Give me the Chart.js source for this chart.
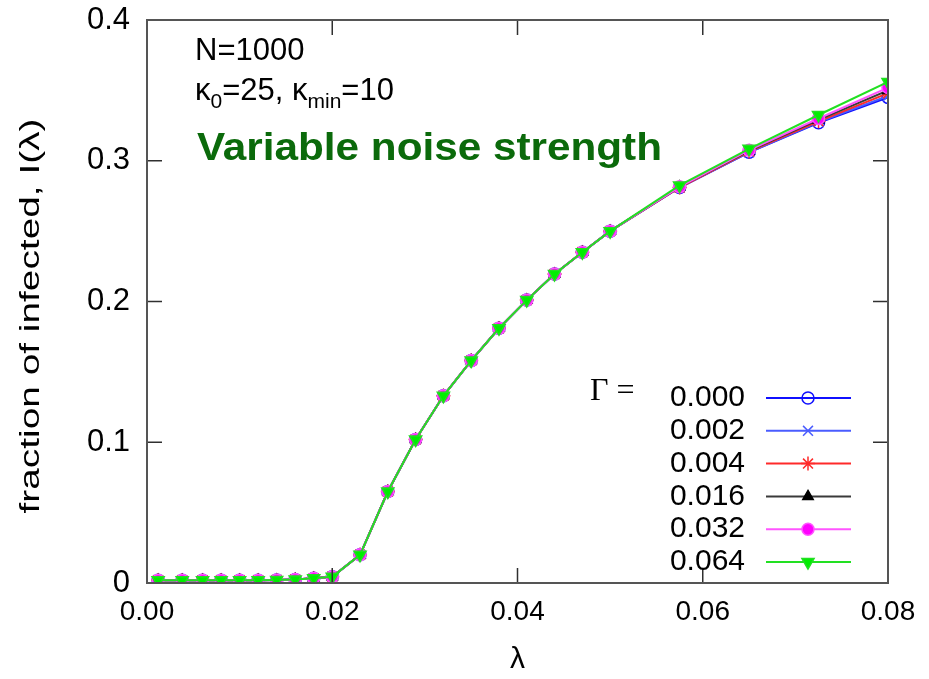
<!DOCTYPE html>
<html>
<head>
<meta charset="utf-8">
<title>fraction of infected vs lambda</title>
<script src="https://cdn.jsdelivr.net/npm/chart.js@4.4.1/dist/chart.umd.min.js"></script>
<style>
  html, body { margin: 0; padding: 0; background: #ffffff; }
  #wrap { width: 929px; height: 679px; }
</style>
</head>
<body>
<div id="wrap"><canvas id="chart" width="929" height="679"></canvas></div>
<script>
// infection rate λ (x values)
const lambdas = [0.0012, 0.0038, 0.006, 0.008, 0.010, 0.012, 0.014, 0.016, 0.018, 0.020,
                 0.023, 0.026, 0.029, 0.032, 0.035, 0.038, 0.041, 0.044, 0.047, 0.050,
                 0.0575, 0.065, 0.0725, 0.080];

// fraction of infected I(λ), one list per noise strength Γ
const infG000 = [0.002, 0.002, 0.002, 0.002, 0.002, 0.002, 0.0022, 0.0025, 0.0033, 0.0045,
                 0.020, 0.065, 0.102, 0.133, 0.158, 0.181, 0.201, 0.2195, 0.235, 0.250,
                 0.281, 0.306, 0.327, 0.345];
const infG002 = [0.002, 0.002, 0.002, 0.002, 0.002, 0.002, 0.0022, 0.0025, 0.0033, 0.0045,
                 0.020, 0.065, 0.102, 0.133, 0.158, 0.181, 0.201, 0.2195, 0.235, 0.250,
                 0.281, 0.306, 0.3275, 0.346];
const infG004 = [0.002, 0.002, 0.002, 0.002, 0.002, 0.002, 0.0022, 0.0025, 0.0033, 0.0045,
                 0.020, 0.065, 0.102, 0.133, 0.158, 0.181, 0.201, 0.2195, 0.235, 0.250,
                 0.281, 0.3065, 0.328, 0.348];
const infG016 = [0.002, 0.002, 0.002, 0.002, 0.002, 0.002, 0.0022, 0.0025, 0.0033, 0.0045,
                 0.020, 0.065, 0.102, 0.133, 0.158, 0.181, 0.201, 0.2195, 0.235, 0.250,
                 0.2815, 0.307, 0.329, 0.350];
const infG032 = [0.002, 0.002, 0.002, 0.002, 0.002, 0.002, 0.0022, 0.0025, 0.0033, 0.0045,
                 0.020, 0.065, 0.102, 0.133, 0.158, 0.181, 0.201, 0.2195, 0.235, 0.250,
                 0.2815, 0.3075, 0.330, 0.352];
const infG064 = [0.002, 0.002, 0.002, 0.002, 0.002, 0.002, 0.0022, 0.0025, 0.0033, 0.0045,
                 0.020, 0.065, 0.102, 0.133, 0.158, 0.181, 0.201, 0.2195, 0.235, 0.250,
                 0.2825, 0.3085, 0.3325, 0.356];

const gammaLabels = ['0.000', '0.002', '0.004', '0.016', '0.032', '0.064'];
const xTicks = [0, 0.02, 0.04, 0.06, 0.08];
const yTicks = [0, 0.1, 0.2, 0.3, 0.4];

// 每条曲线的样式
const styles = [
  { color: '#1010ff', point: 'circle',   fill: 'rgba(0,0,0,0)', rot: 0,   r: 6 },
  { color: '#4a5cff', point: 'crossRot', fill: '#4a5cff',       rot: 0,   r: 7 },
  { color: '#ff2a2a', point: 'star',     fill: '#ff2a2a',       rot: 0,   r: 7 },
  { color: '#3a3a3a', point: 'triangle', fill: '#000000',       rot: 0,   r: 6 },
  { color: '#ff55ff', point: 'circle',   fill: '#ff00ff',       rot: 0,   r: 6 },
  { color: '#22e022', point: 'triangle', fill: '#00ee00',       rot: 180, r: 7 }
];
const series = [infG000, infG002, infG004, infG016, infG032, infG064];

const datasets = series.map((vals, i) => ({
  label: gammaLabels[i],
  data: lambdas.map((x, j) => ({ x: x, y: vals[j] })),
  showLine: true,
  borderColor: styles[i].color,
  borderWidth: 2,
  pointStyle: styles[i].point,
  pointRadius: styles[i].r,
  pointRotation: styles[i].rot,
  pointBackgroundColor: styles[i].fill,
  pointBorderColor: i === 3 ? '#000000' : styles[i].color,
  pointBorderWidth: 1.5,
  order: 6 - i   // 后面的曲线画在上层
}));

// 坐标框、内向刻度、文字和图例
const decorations = {
  id: 'decorations',
  afterDraw(chart) {
    const ctx = chart.ctx;
    const a = chart.chartArea;
    const xs = chart.scales.x;
    const ys = chart.scales.y;
    ctx.save();

    // 刻度线（四边朝内）
    ctx.strokeStyle = '#303030';
    ctx.lineWidth = 1.5;
    const tl = 15;
    xTicks.forEach(v => {
      const px = xs.getPixelForValue(v);
      ctx.beginPath();
      ctx.moveTo(px, a.bottom); ctx.lineTo(px, a.bottom - tl);
      ctx.moveTo(px, a.top); ctx.lineTo(px, a.top + tl);
      ctx.stroke();
    });
    yTicks.forEach(v => {
      const py = ys.getPixelForValue(v);
      ctx.beginPath();
      ctx.moveTo(a.left, py); ctx.lineTo(a.left + tl, py);
      ctx.moveTo(a.right, py); ctx.lineTo(a.right - tl, py);
      ctx.stroke();
    });

    // 外框
    ctx.strokeStyle = '#555555';
    ctx.lineWidth = 2;
    ctx.strokeRect(a.left, a.top, a.right - a.left, a.bottom - a.top);

    // 轴标题
    ctx.fillStyle = '#000000';
    ctx.font = '30px "Liberation Sans", Arial, sans-serif';
    ctx.textAlign = 'center';
    ctx.textBaseline = 'middle';
    ctx.fillText('\u03bb', (a.left + a.right) / 2, 660);
    ctx.save();
    ctx.font = '27px "Liberation Sans", Arial, sans-serif';
    const yt = 'fraction of infected, I(\u03bb)';
    const yw = ctx.measureText(yt).width;
    ctx.translate(32, 316);
    ctx.rotate(-Math.PI / 2);
    ctx.scale(395 / yw, 1);
    ctx.fillText(yt, 0, 0);
    ctx.restore();

    // 参数说明
    ctx.textAlign = 'left';
    ctx.textBaseline = 'alphabetic';
    ctx.font = '31px "Liberation Sans", Arial, sans-serif';
    ctx.fillText('N=1000', 195, 60);
    let x = 195;
    const parts = [['\u03ba', false], ['0', true], ['=25, \u03ba', false], ['min', true], ['=10', false]];
    parts.forEach(([t, sub]) => {
      ctx.font = (sub ? '21px' : '31px') + ' "Liberation Sans", Arial, sans-serif';
      ctx.fillText(t, x, sub ? 108 : 100);
      x += ctx.measureText(t).width;
    });

    // 绿色标题
    ctx.fillStyle = '#0b6a0b';
    ctx.font = 'bold 38px "Liberation Sans", Arial, sans-serif';
    const title = 'Variable noise strength';
    const tw = ctx.measureText(title).width;
    ctx.save();
    ctx.translate(197, 160);
    ctx.scale(465 / tw, 1);
    ctx.fillText(title, 0, 0);
    ctx.restore();

    // 图例
    ctx.fillStyle = '#000000';
    ctx.font = '32px "Liberation Serif", "Times New Roman", serif';
    ctx.textBaseline = 'middle';
    ctx.fillText('\u0393 =', 590, 392);
    ctx.font = '30px "Liberation Sans", Arial, sans-serif';
    ctx.textAlign = 'right';
    chart.data.datasets.forEach((ds, i) => {
      const y = 398 + i * 32.8;
      ctx.fillStyle = '#000000';
      ctx.fillText(ds.label, 745, y);
      ctx.strokeStyle = ds.borderColor;
      ctx.lineWidth = 2;
      ctx.beginPath();
      ctx.moveTo(766, y); ctx.lineTo(851, y);
      ctx.stroke();
      ctx.fillStyle = ds.pointBackgroundColor;
      ctx.strokeStyle = ds.pointBorderColor;
      ctx.lineWidth = ds.pointBorderWidth;
      Chart.helpers.drawPoint(ctx, {
        pointStyle: ds.pointStyle,
        radius: ds.pointRadius,
        rotation: ds.pointRotation,
        borderWidth: ds.pointBorderWidth
      }, 808, y);
    });
    ctx.restore();
  }
};

new Chart(document.getElementById('chart'), {
  type: 'scatter',
  data: { datasets: datasets },
  options: {
    responsive: false,
    animation: false,
    layout: { padding: { top: 20, right: 41, left: 0, bottom: 0 } },
    plugins: { legend: { display: false }, tooltip: { enabled: false } },
    scales: {
      x: {
        type: 'linear',
        min: 0, max: 0.08,
        afterFit(scale) {
          scale.height = 96;
          scale.paddingLeft = 0;
          scale.paddingRight = 0;
        },
        afterBuildTicks(scale) { scale.ticks = xTicks.map(v => ({ value: v })); },
        grid: { display: false, drawTicks: false },
        border: { display: false },
        ticks: {
          padding: 12,
          color: '#000000',
          font: { family: '"Liberation Sans", Arial, sans-serif', size: 28 },
          callback: v => v.toFixed(2)
        }
      },
      y: {
        type: 'linear',
        min: 0, max: 0.4,
        afterFit(scale) {
          scale.width = 147;
          scale.paddingTop = 0;
          scale.paddingBottom = 0;
        },
        afterBuildTicks(scale) { scale.ticks = yTicks.map(v => ({ value: v })); },
        grid: { display: false, drawTicks: false },
        border: { display: false },
        ticks: {
          padding: 17,
          color: '#000000',
          font: { family: '"Liberation Sans", Arial, sans-serif', size: 31 },
          callback: v => (v === 0 ? '0' : v.toFixed(1))
        }
      }
    }
  },
  plugins: [decorations]
});
</script>
</body>
</html>
